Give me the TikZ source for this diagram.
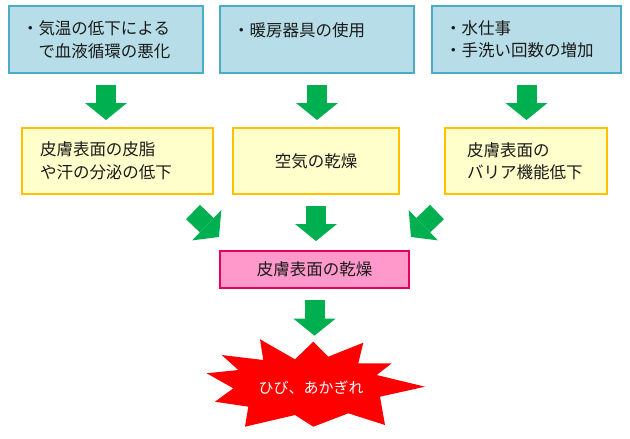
\documentclass[tikz,border=0pt]{standalone}
\usepackage{fontspec}
\setmainfont{Noto Sans CJK JP}
\usetikzlibrary{arrows.meta,positioning}
\definecolor{SkinInk}{HTML}{1A1A1A}
\definecolor{SkinBlue}{HTML}{B7DEE8}
\definecolor{SkinBlueLine}{HTML}{4BACC6}
\definecolor{SkinYellow}{HTML}{FFFFCC}
\definecolor{SkinGold}{HTML}{FFC000}
\definecolor{SkinPink}{HTML}{FF99CC}
\definecolor{SkinRose}{HTML}{E6005C}
\definecolor{SkinGreen}{HTML}{00B050}
\definecolor{SkinRed}{HTML}{FF0000}

\begin{document}
\begin{tikzpicture}[
    x=1pt,
    y=-1pt,
    font=\fontsize{16.5pt}{22.5pt}\selectfont,
    box/.style={rectangle, line width=2pt, inner ysep=0pt, text=SkinInk},
    cause/.style={box, draw=SkinBlueLine, fill=SkinBlue, minimum height=67pt, align=left, inner xsep=13pt},
    effect/.style={box, draw=SkinGold, fill=SkinYellow, minimum height=66pt},
    result/.style={box, draw=SkinRose, fill=SkinPink, minimum height=37pt, minimum width=189pt, align=center},
    flow/.style={-{Triangle[width=42pt,length=17pt,line width=0pt]}, line width=20pt, draw=SkinGreen, shorten <=11pt, shorten >=7pt},
    burst/.style={fill=SkinRed},
    shout/.style={text=white, font=\fontsize{15pt}{18pt}\selectfont}
  ]
    \useasboundingbox (0,0) rectangle (630,439);

    \node[cause, text width=168pt] (cold) at (106,39.5) {・気温の低下による\\　で血液循環の悪化};
    \node[cause, text width=168pt, text height=14pt, text depth=21pt] (heater) at (317,39.5) {・暖房器具の使用};
    \node[cause, text width=163pt] (water) at (526.5,39.5) {・水仕事\\・手洗い回数の増加};

    \node[effect, text width=155pt, inner xsep=18pt, align=left] (sebum) at (117.5,161) {皮膚表面の皮脂\\や汗の分泌の低下};
    \node[effect, text width=130pt, inner xsep=18pt, align=center] (airdry) at (316,161) {空気の乾燥};
    \node[effect, text width=118pt, inner xsep=22pt, align=left] (barrier) at (526,161) {皮膚表面の\\バリア機能低下};

    \node[result] (drysurface) at (314.5,269.5) {皮膚表面の乾燥};

    % starburst
    \coordinate (bursttop) at (313.3,341.7);
    \fill[burst] (260,339.3) -- (295,359.3) -- (bursttop) -- (328.3,356.7) -- (363.3,342.7)
      -- (358.3,363.3) -- (391.7,363.3) -- (376.7,375) -- (425,386.7) -- (380,396.7)
      -- (385,425) -- (348.3,413.3) -- (313.3,426.7) -- (295,415) -- (245,426.7)
      -- (248.3,406.7) -- (215,401.7) -- (233.3,388.3) -- (206.7,373.3) -- (238.3,370)
      -- (221.7,355) -- (263.3,360) -- cycle;
    \node[shout] (cracks) at (311,388) {ひび、あかぎれ};

    \draw[flow] (cold.south) -- (cold.south |- sebum.north);
    \draw[flow] (heater.south) -- (heater.south |- airdry.north);
    \draw[flow] (water.south) -- (water.south |- barrier.north);

    \draw[flow, shorten <=0pt, shorten >=0pt] ([shift={(-21,17)}]sebum.south east) -- ([shift={(0,-13)}]drysurface.north west);
    \draw[flow, shorten >=9pt] (airdry.south) -- (airdry.south |- drysurface.north);
    \draw[flow, shorten <=0pt, shorten >=0pt] ([shift={(-7,17)}]barrier.south west) -- ([shift={(1,-13)}]drysurface.north east);

    \draw[flow, shorten >=6pt] (drysurface.south) -- (drysurface.south |- bursttop);
  \end{tikzpicture}
\end{document}
